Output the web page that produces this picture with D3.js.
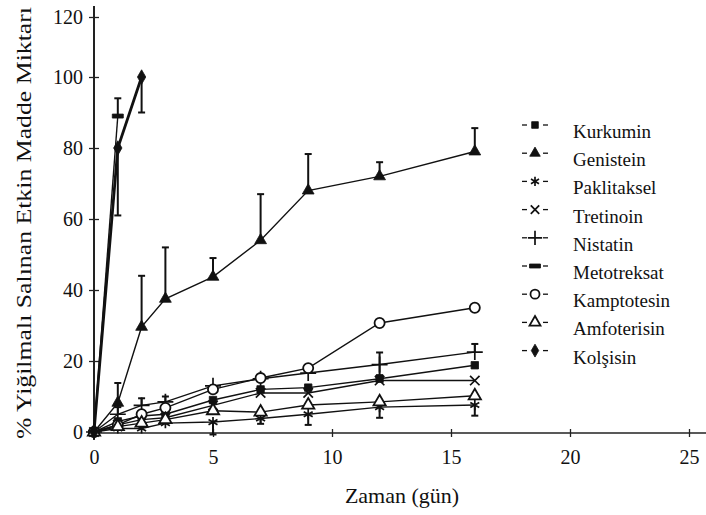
<!DOCTYPE html>
<html>
<head>
<meta charset="utf-8">
<script src="https://cdn.jsdelivr.net/npm/d3@7"></script>
<style>
  body { margin: 0; background: #fff; }
</style>
</head>
<body>
<div class="chart"></div>
<script>
// ---- data ----
var days = [0, 1, 2, 3, 5, 7, 9, 12, 16];
var kurkumin    = [0, 3, 4.5, 5, 9, 12, 12.5, 15, 18.8];
var genistein   = [0, 8.2, 29.6, 37.5, 43.7, 54, 68, 72, 79];
var paklitaksel = [0, 1, 1, 2.5, 2.8, 3.8, 5, 7, 7.6];
var tretinoin   = [0, 2, 3.5, 4, 7.5, 11, 11, 14.5, 14.5];
var nistatin    = [0, 5, 7.5, 8.5, 13, 15, 16.6, 19, 22.5];
var kamptotesin = [0, 2, 5, 6.8, 12, 15.2, 18, 30.7, 35];
var amfoterisin = [0, 1.5, 2.5, 3.5, 6, 5.6, 7.6, 8.5, 10.2];
var shortDays = [0, 1, 2];
var kolsisin = [0, 80, 100];
var metoDays = [0, 1];
var metotreksat = [0, 89];

// error bars (up / down amounts per point)
var genisteinUp    = [0, 5.6, 14.4, 14.5, 5.3, 13, 10.3, 4, 6.6];
var kamptotesinUp  = [0, 0, 0, 0, 3.5, 3.7, 0, 5.3, 11.2];
var nistatinUp     = [0, 2, 2, 1.5, 0, 0, 0, 3.4, 2.3];
var nistatinDown   = [0, 0, 0, 0, 0, 0, 0, 3, 0];
var paklitakselDown = [0, 0, 0, 0, 3.5, 1.5, 3, 3, 3];
var kolsisinDown   = [0, 19, 10];
var metotreksatUp  = [0, 5];

var names = ["Kurkumin", "Genistein", "Paklitaksel", "Tretinoin", "Nistatin",
             "Metotreksat", "Kamptotesin", "Amfoterisin", "Kolşisin"];
var yTicks = [0, 20, 40, 60, 80, 100, 120];
var xTicks = [0, 5, 10, 15, 20, 25];

var serif = "'Liberation Serif', 'Times New Roman', Times, Tinos, 'Noto Serif', 'DejaVu Serif', FreeSerif, serif";

// ---- chart space ----
var svgWidth = 706, svgHeight = 515;
var svg = d3.select(".chart").append("svg")
    .attr("width", svgWidth)
    .attr("height", svgHeight);

var x = d3.scaleLinear().domain([0, 25]).range([94, 689]);
// the printed axis is squeezed above 100
var y = d3.scaleLinear().domain([0, 100, 120]).range([432, 77, 17]);

// custom flat bar marker for Metotreksat
var bar = {
    draw: function (ctx, size) {
        ctx.rect(-5.5, -2, 11, 4);
    }
};

var series = [
    {name: "Kurkumin", xs: days, ys: kurkumin, sym: d3.symbolSquare, size: 55, filled: true},
    {name: "Genistein", xs: days, ys: genistein, sym: d3.symbolTriangle, size: 60, filled: true, up: genisteinUp},
    {name: "Paklitaksel", xs: days, ys: paklitaksel, sym: d3.symbolAsterisk, size: 75, stroke: true, down: paklitakselDown},
    {name: "Tretinoin", xs: days, ys: tretinoin, sym: d3.symbolX, size: 60, stroke: true},
    {name: "Nistatin", xs: days, ys: nistatin, sym: d3.symbolPlus, size: 85, stroke: true, up: nistatinUp, down: nistatinDown},
    {name: "Metotreksat", xs: metoDays, ys: metotreksat, sym: bar, size: 40, filled: true, up: metotreksatUp},
    {name: "Kamptotesin", xs: days, ys: kamptotesin, sym: d3.symbolCircle, size: 80},
    {name: "Amfoterisin", xs: days, ys: amfoterisin, sym: d3.symbolTriangle, size: 65},
    {name: "Kolşisin", xs: shortDays, ys: kolsisin, sym: d3.symbolDiamond, size: 60, filled: true, down: kolsisinDown, width: 2.8}
];

// ---- axes ----
var leftAxis = d3.axisLeft(y).tickValues(yTicks).tickSize(5).tickPadding(6);
var bottomAxis = d3.axisBottom(x).tickValues(xTicks).tickSize(5).tickPadding(12);

var gy = svg.append("g").attr("transform", "translate(94,0)").call(leftAxis);
var gx = svg.append("g").attr("transform", "translate(0,433)").call(bottomAxis);

gy.select(".domain").remove();
gx.select(".domain").remove();
gy.selectAll(".tick line").attr("x1", 5).attr("x2", -5).attr("stroke", "#222").attr("stroke-width", 1.3);
gx.selectAll(".tick line").attr("y1", -4).attr("y2", 4).attr("stroke", "#222").attr("stroke-width", 1.3);
gy.attr("font-family", serif).attr("font-size", 20);
gx.attr("font-family", serif).attr("font-size", 20);
gy.selectAll("text").style("font-family", serif).attr("fill", "#111");
gx.selectAll("text").style("font-family", serif).attr("fill", "#111");

svg.append("line").attr("x1", 94).attr("x2", 94).attr("y1", 6).attr("y2", 433)
    .attr("stroke", "#222").attr("stroke-width", 2);
svg.append("line").attr("x1", 94).attr("x2", 706).attr("y1", 433).attr("y2", 433)
    .attr("stroke", "#222").attr("stroke-width", 1.6);

// ---- lines ----
var plot = svg.append("g");
series.forEach(function (s) {
    var pts = s.xs.map(function (d, i) { return [d, s.ys[i]]; });
    plot.append("path")
        .datum(pts)
        .attr("fill", "none")
        .attr("stroke", "#111")
        .attr("stroke-width", s.width || 1.4)
        .attr("d", d3.line().x(function (d) { return x(d[0]); }).y(function (d) { return y(d[1]); }));
});

// ---- error bars ----
function errBar(xv, from, to) {
    var px = x(xv);
    plot.append("line").attr("x1", px).attr("x2", px).attr("y1", y(from)).attr("y2", y(to))
        .attr("stroke", "#111").attr("stroke-width", 2);
    plot.append("line").attr("x1", px - 3.5).attr("x2", px + 3.5).attr("y1", y(to)).attr("y2", y(to))
        .attr("stroke", "#111").attr("stroke-width", 2);
}
series.forEach(function (s) {
    s.xs.forEach(function (d, i) {
        if (s.up && s.up[i]) errBar(d, s.ys[i], s.ys[i] + s.up[i]);
        if (s.down && s.down[i]) errBar(d, s.ys[i], s.ys[i] - s.down[i]);
    });
});

// ---- markers ----
function styleSym(sel, s) {
    if (s.stroke) {
        sel.attr("fill", "none").attr("stroke", "#111").attr("stroke-width", 1.7);
    } else if (s.filled) {
        sel.attr("fill", "#111").attr("stroke", "#111").attr("stroke-width", 0.8);
    } else {
        sel.attr("fill", "#fff").attr("stroke", "#111").attr("stroke-width", 1.8);
    }
}
series.forEach(function (s) {
    var sym = d3.symbol().type(s.sym).size(s.size);
    var m = plot.selectAll(null)
        .data(s.xs.map(function (d, i) { return [d, s.ys[i]]; }))
        .enter()
        .append("path")
        .attr("transform", function (d) { return "translate(" + x(d[0]) + "," + y(d[1]) + ")"; })
        .attr("d", sym);
    styleSym(m, s);
});

// ---- legend ----
var legend = svg.append("g");
names.forEach(function (name, i) {
    var s = series.filter(function (d) { return d.name === name; })[0];
    var cy = 132 + i * 28.2;
    var my = cy - 7;
    var row = legend.append("g");
    row.append("line").attr("x1", 522).attr("x2", 527).attr("y1", my).attr("y2", my)
        .attr("stroke", "#111").attr("stroke-width", 1.3);
    row.append("line").attr("x1", 543).attr("x2", 548).attr("y1", my).attr("y2", my)
        .attr("stroke", "#111").attr("stroke-width", 1.3);
    var p = row.append("path")
        .attr("transform", "translate(535," + my + ")")
        .attr("d", d3.symbol().type(s.sym).size(s.size * 0.8));
    styleSym(p, s);
    row.append("text")
        .attr("x", 573)
        .attr("y", cy + 6)
        .attr("fill", "#111")
        .style("font-family", serif)
        .style("font-size", "19px")
        .text(name);
});

// ---- axis titles ----
svg.append("text")
    .attr("transform", "translate(31,223) rotate(-90)")
    .attr("text-anchor", "middle")
    .attr("fill", "#111")
    .style("font-family", serif)
    .style("font-size", "22px")
    .attr("textLength", 432)
    .attr("lengthAdjust", "spacingAndGlyphs")
    .text("% Yiğilmalı Salınan Etkin Madde Miktarı");

svg.append("text")
    .attr("x", 402)
    .attr("y", 503)
    .attr("text-anchor", "middle")
    .attr("fill", "#111")
    .style("font-family", serif)
    .style("font-size", "22px")
    .text("Zaman (gün)");
</script>
</body>
</html>
